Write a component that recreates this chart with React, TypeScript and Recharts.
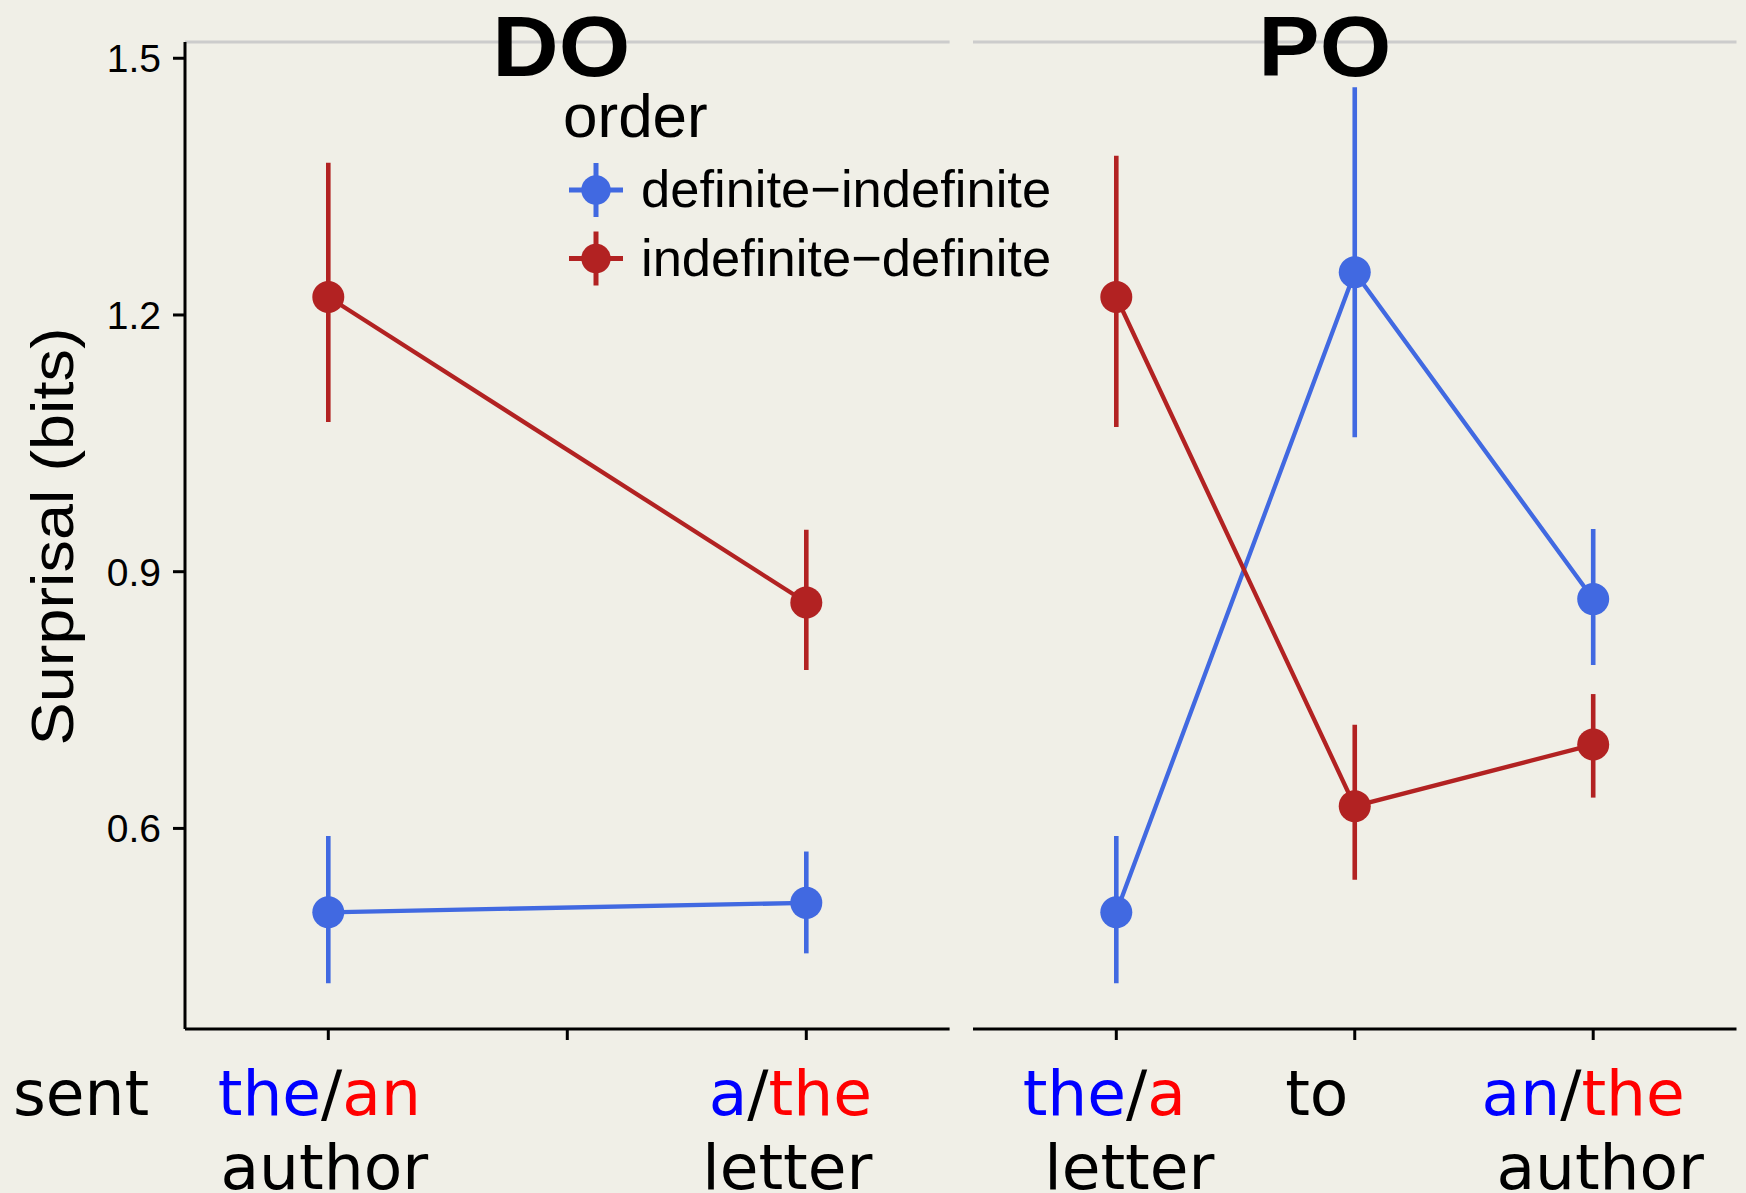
import React from 'react';
import { LineChart, Line, XAxis, YAxis, ErrorBar, Legend, ReferenceLine } from 'recharts';

// ---------- data ----------
const doDeterminers = ['the/an', '', 'a/the'];
const doNouns = ['author', '', 'letter'];
const poDeterminers = ['the/a', 'to', 'an/the'];
const poNouns = ['letter', '', 'author'];

const seriesNames = ['definite\u2212indefinite', 'indefinite\u2212definite'];

const doDefIndef = [0.502, null, 0.513];
const doDefIndefLow = [0.419, null, 0.454];
const doDefIndefHigh = [0.591, null, 0.573];
const doIndefDef = [1.221, null, 0.864];
const doIndefDefLow = [1.075, null, 0.785];
const doIndefDefHigh = [1.378, null, 0.949];

const poDefIndef = [0.502, 1.25, 0.868];
const poDefIndefLow = [0.419, 1.057, 0.791];
const poDefIndefHigh = [0.591, 1.466, 0.95];
const poIndefDef = [1.221, 0.626, 0.698];
const poIndefDefLow = [1.069, 0.54, 0.636];
const poIndefDefHigh = [1.386, 0.721, 0.757];

const yTicks = [0.6, 0.9, 1.2, 1.5];
const yDomain: [number, number] = [0.3656, 1.519];
const yAxisTitle = 'Surprisal (bits)';
const panelTitles = ['DO', 'PO'];
const legendTitle = 'order';
const verbLabel = 'sent';

// ---------- styles ----------
const BG = '#F0EFE7';
const BLUE = '#4169E1';
const RED = '#B22222';
const TXT_BLUE = '#0000FF';
const TXT_RED = '#FF0000';
const SANS = '"Liberation Sans", Arial, Helvetica, sans-serif';
const VERD = '"DejaVu Sans", Verdana, sans-serif';
const W = 1746;
const H = 1193;

function buildRows(
  dets: string[],
  a: (number | null)[], aLo: (number | null)[], aHi: (number | null)[],
  b: (number | null)[], bLo: (number | null)[], bHi: (number | null)[]
) {
  return dets.map((d, i) => ({
    cat: String(i),
    di: a[i],
    diErr: a[i] == null ? undefined : [(a[i] as number) - (aLo[i] as number), (aHi[i] as number) - (a[i] as number)],
    id: b[i],
    idErr: b[i] == null ? undefined : [(b[i] as number) - (bLo[i] as number), (bHi[i] as number) - (b[i] as number)],
  }));
}

const doRows = buildRows(doDeterminers, doDefIndef, doDefIndefLow, doDefIndefHigh, doIndefDef, doIndefDefLow, doIndefDefHigh);
const poRows = buildRows(poDeterminers, poDefIndef, poDefIndefLow, poDefIndefHigh, poIndefDef, poIndefDefLow, poIndefDefHigh);

const makeTick = (dets: string[], nouns: string[], dx1: number[], dx2: number[]) => (props: any) => {
  const { x, y, payload } = props;
  const i = Number(payload.value);
  const det = dets[i] || '';
  const noun = nouns[i] || '';
  const parts = det.split('/');
  return (
    <g>
      <text x={x + dx1[i]} y={y + 73} textAnchor="middle" fontFamily={VERD} fontSize={63} fill="#000">
        {parts.length === 2 ? (
          <>
            <tspan fill={TXT_BLUE}>{parts[0]}</tspan>
            <tspan fill="#000">/</tspan>
            <tspan fill={TXT_RED}>{parts[1]}</tspan>
          </>
        ) : (
          <tspan fill="#000">{det}</tspan>
        )}
      </text>
      {noun ? (
        <text x={x + dx2[i]} y={y + 147} textAnchor="middle" fontFamily={VERD} fontSize={63} fill="#000">
          {noun}
        </text>
      ) : null}
    </g>
  );
};

const doTick = makeTick(doDeterminers, doNouns, [-9, 0, -16], [-4, 0, -19]);
const poTick = makeTick(poDeterminers, poNouns, [-12, -38, -10], [13, 0, 7]);

const makeTitle = (title: string, dx: number, len: number) => (props: any) => {
  const vb = props.viewBox || { x: 0, y: 0, width: 0 };
  return (
    <text x={vb.x + vb.width / 2 + dx} y={vb.y + 34} textAnchor="middle" fontFamily={SANS} fontWeight="bold" fontSize={86} fill="#000" textLength={len} lengthAdjust="spacingAndGlyphs">
      {title}
    </text>
  );
};

const renderYTitle = (props: any) => {
  const vb = props.viewBox || { x: 0, y: 0, width: 0, height: 0 };
  const cx = vb.x - 32;
  const cy = vb.y + vb.height / 2 + 1;
  return (
    <text x={cx} y={cy} transform={`rotate(-90, ${cx}, ${cy})`} textAnchor="middle" fontFamily={SANS} fontSize={60} fill="#000" textLength={418} lengthAdjust="spacingAndGlyphs">
      {yAxisTitle}
    </text>
  );
};

const renderVerb = (props: any) => {
  const vb = props.viewBox || { x: 0, y: 0 };
  return (
    <text x={vb.x - 172} y={vb.y + 86} textAnchor="start" fontFamily={VERD} fontSize={63} fill="#000">
      {verbLabel}
    </text>
  );
};

const renderLegend = (props: any) => {
  const payload = (props.payload || []) as any[];
  const items = payload.length ? payload : seriesNames.map((n, i) => ({ value: n, color: i === 0 ? BLUE : RED }));
  return (
    <svg width={540} height={230} style={{ overflow: 'visible', display: 'block' }}>
      <text x={3} y={57} fontFamily={SANS} fontSize={62} fill="#000">{legendTitle}</text>
      {items.map((it: any, i: number) => {
        const cy = 110 + i * 68.5;
        const c = it.color;
        return (
          <g key={i}>
            <line x1={36 - 27} x2={36 + 27} y1={cy} y2={cy} stroke={c} strokeWidth={5} />
            <line x1={36} x2={36} y1={cy - 27} y2={cy + 27} stroke={c} strokeWidth={5} />
            <circle cx={36} cy={cy} r={14.7} fill={c} />
            <text x={81} y={cy + 17} fontFamily={SANS} fontSize={52.5} fill="#000">{it.value}</text>
          </g>
        );
      })}
    </svg>
  );
};

const axisLine = { stroke: '#000', strokeWidth: 3 };
const tickLine = { stroke: '#000', strokeWidth: 3 };
const STRIP = '#CCCCCC';

export default function App() {
  const padX = 143.3;
  return (
    <div style={{ position: 'absolute', left: 0, top: 0, width: W, height: H, background: BG, overflow: 'hidden' }}>
      {/* DO panel */}
      <div style={{ position: 'absolute', left: 0, top: 0 }}>
        <LineChart width={W} height={H} data={doRows} margin={{ top: 42, left: 105, right: 796.4, bottom: 44 }}>
          <XAxis dataKey="cat" height={120} tickSize={11} tickMargin={2} tickLine={tickLine} axisLine={axisLine} tick={doTick} interval={0} padding={{ left: padX, right: padX }} label={{ content: renderVerb }} />
          <YAxis domain={yDomain} allowDataOverflow ticks={yTicks} tickFormatter={(v: number) => v.toFixed(1)} width={80} tickSize={12} tickMargin={12} tickLine={tickLine} axisLine={axisLine} tick={{ fill: '#000', fontSize: 39, fontFamily: SANS }} label={{ content: renderYTitle }} />
          <ReferenceLine y={yDomain[1]} stroke={STRIP} strokeWidth={3} ifOverflow="visible" label={{ content: makeTitle(panelTitles[0], -6, 138) }} />
          <Legend layout="vertical" align="center" verticalAlign="middle" wrapperStyle={{ position: 'absolute', left: 560, top: 80, width: 540, height: 230 }} content={renderLegend} />
          <Line name={seriesNames[0]} dataKey="di" type="linear" stroke={BLUE} strokeWidth={4.3} connectNulls dot={{ r: 16, fill: BLUE, stroke: BLUE, strokeWidth: 0 }} activeDot={false} isAnimationActive={false}>
            <ErrorBar dataKey="diErr" width={0} stroke={BLUE} strokeWidth={4.6} direction="y" isAnimationActive={false} />
          </Line>
          <Line name={seriesNames[1]} dataKey="id" type="linear" stroke={RED} strokeWidth={4.3} connectNulls dot={{ r: 16, fill: RED, stroke: RED, strokeWidth: 0 }} activeDot={false} isAnimationActive={false}>
            <ErrorBar dataKey="idErr" width={0} stroke={RED} strokeWidth={4.6} direction="y" isAnimationActive={false} />
          </Line>
        </LineChart>
      </div>
      {/* PO panel */}
      <div style={{ position: 'absolute', left: 0, top: 0 }}>
        <LineChart width={W} height={H} data={poRows} margin={{ top: 42, left: 973, right: 9.5, bottom: 44 }}>
          <XAxis dataKey="cat" height={120} tickSize={11} tickMargin={2} tickLine={tickLine} axisLine={axisLine} tick={poTick} interval={0} padding={{ left: padX, right: padX }} />
          <YAxis domain={yDomain} allowDataOverflow ticks={yTicks} hide />
          <ReferenceLine y={yDomain[1]} stroke={STRIP} strokeWidth={3} ifOverflow="visible" label={{ content: makeTitle(panelTitles[1], -30, 133) }} />
          <Line name={seriesNames[0]} dataKey="di" type="linear" stroke={BLUE} strokeWidth={4.3} dot={{ r: 16, fill: BLUE, stroke: BLUE, strokeWidth: 0 }} activeDot={false} isAnimationActive={false}>
            <ErrorBar dataKey="diErr" width={0} stroke={BLUE} strokeWidth={4.6} direction="y" isAnimationActive={false} />
          </Line>
          <Line name={seriesNames[1]} dataKey="id" type="linear" stroke={RED} strokeWidth={4.3} dot={{ r: 16, fill: RED, stroke: RED, strokeWidth: 0 }} activeDot={false} isAnimationActive={false}>
            <ErrorBar dataKey="idErr" width={0} stroke={RED} strokeWidth={4.6} direction="y" isAnimationActive={false} />
          </Line>
        </LineChart>
      </div>
    </div>
  );
}
